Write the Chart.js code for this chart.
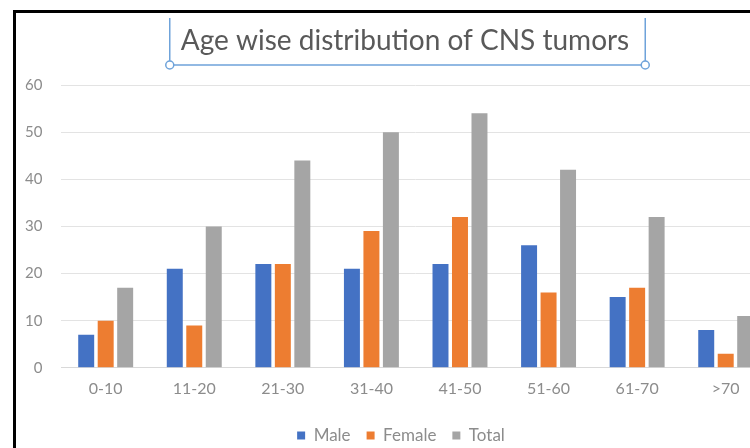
<!DOCTYPE html>
<html>
<head>
<meta charset="utf-8">
<script src="https://cdn.jsdelivr.net/npm/chart.js@4"></script>
<style>
  html, body { margin: 0; padding: 0; background: #fff; overflow: hidden; }
  body { width: 750px; height: 448px; position: relative; }
  #frame {
    position: absolute; left: 13px; top: 10px; width: 800px; height: 460px;
    border-left: 3px solid #000; border-top: 3px solid #000;
  }
  #wrap { position: absolute; left: 0; top: 13px; width: 800px; height: 443px; }
</style>
</head>
<body>
<div id="frame"></div>
<div id="wrap"><canvas id="js-chart-cns"></canvas></div>
<script>
// Chart data
const ageGroups = ['0-10', '11-20', '21-30', '31-40', '41-50', '51-60', '61-70', '>70'];
const maleCounts = [7, 21, 22, 21, 22, 26, 15, 8];
const femaleCounts = [10, 9, 22, 29, 32, 16, 17, 3];
const totalCounts = [17, 30, 44, 50, 54, 42, 32, 11];
const yTicks = [0, 10, 20, 30, 40, 50, 60];

const chartTitle = 'Age wise distribution of CNS tumors';
const fontFamily = 'Lato, "Open Sans", sans-serif';

// Title with the blue selection frame (Excel screenshot look)
const titleWithSelection = {
  id: 'titleWithSelection',
  afterLayout(chart) {
    // legend sits a bit right of the canvas centre in the original
    chart.legend.left += 13;
    chart.legend.right += 13;
  },
  afterDraw(chart) {
    const ctx = chart.ctx;
    const cx = 405, cy = 28;
    ctx.save();
    ctx.font = '28px ' + fontFamily;
    ctx.fillStyle = '#595959';
    ctx.textAlign = 'center';
    ctx.textBaseline = 'middle';
    ctx.fillText(chartTitle, cx, cy);
    const w = ctx.measureText(chartTitle).width;
    const x1 = cx - w / 2 - 11, x2 = cx + w / 2 + 16;
    const y1 = 5, y2 = 52;
    ctx.strokeStyle = '#6fa3da';
    ctx.lineWidth = 1.5;
    ctx.beginPath();
    ctx.moveTo(x1, y1); ctx.lineTo(x1, y2); ctx.lineTo(x2, y2); ctx.lineTo(x2, y1);
    ctx.stroke();
    [x1, x2].forEach(function (x) {
      ctx.beginPath();
      ctx.arc(x, y2, 4, 0, Math.PI * 2);
      ctx.fillStyle = '#fff';
      ctx.fill();
      ctx.stroke();
    });
    ctx.restore();
  }
};

let chartCon = document.getElementById('js-chart-cns');

let chartData = {
  labels: ageGroups,
  datasets: [
    { label: 'Male', data: maleCounts, backgroundColor: '#4472c4' },
    { label: 'Female', data: femaleCounts, backgroundColor: '#ed7d31' },
    { label: 'Total', data: totalCounts, backgroundColor: '#a5a5a5' }
  ]
};

let chartOptions = {
  responsive: true,
  maintainAspectRatio: false,
  animation: false,
  layout: { padding: { left: 6, right: 30, top: 72, bottom: 2 } },
  datasets: { bar: { categoryPercentage: 0.66, barPercentage: 0.82 } },
  scales: {
    x: {
      grid: { display: false },
      border: { color: '#d9d9d9' },
      ticks: { color: '#8c8c8c', font: { family: fontFamily, size: 16 }, padding: 3 },
      afterFit: function (scale) { scale.height += 10; }
    },
    y: {
      min: 0,
      max: 60,
      afterBuildTicks: function (axis) { axis.ticks = yTicks.map(function (v) { return { value: v }; }); },
      grid: { color: '#e3e3e3', drawTicks: false },
      border: { display: false },
      ticks: { color: '#8c8c8c', font: { family: fontFamily, size: 15 }, padding: 19 }
    }
  },
  plugins: {
    title: { display: false },
    legend: {
      position: 'bottom',
      labels: { boxWidth: 8, boxHeight: 8, color: '#8c8c8c', font: { family: fontFamily, size: 17 }, padding: 16 }
    },
    tooltip: { enabled: false }
  }
};

new Chart(chartCon, { type: 'bar', data: chartData, options: chartOptions, plugins: [titleWithSelection] });
</script>
</body>
</html>
